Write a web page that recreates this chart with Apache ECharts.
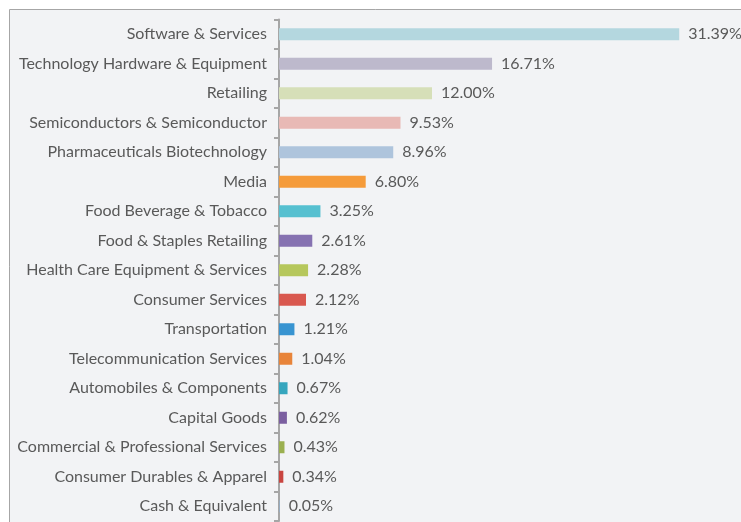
<!DOCTYPE html>
<html>
<head>
<meta charset="utf-8">
<script src="https://cdn.jsdelivr.net/npm/echarts@6/dist/echarts.min.js"></script>
<style>
html,body{margin:0;padding:0;background:#fff;}
#c{width:741px;height:522px;}
</style>
</head>
<body>
<div id="c"></div>
<script>
var categories = [
  'Software & Services',
  'Technology Hardware & Equipment',
  'Retailing',
  'Semiconductors & Semiconductor',
  'Pharmaceuticals Biotechnology',
  'Media',
  'Food Beverage & Tobacco',
  'Food & Staples Retailing',
  'Health Care Equipment & Services',
  'Consumer Services',
  'Transportation',
  'Telecommunication Services',
  'Automobiles & Components',
  'Capital Goods',
  'Commercial & Professional Services',
  'Consumer Durables & Apparel',
  'Cash & Equivalent'
];
var weights = [31.39, 16.71, 12.00, 9.53, 8.96, 6.80, 3.25, 2.61, 2.28, 2.12, 1.21, 1.04, 0.67, 0.62, 0.43, 0.34, 0.05];
var barColors = ['#b4d7df','#bdb9cc','#d6dfb8','#e8b9b5','#aec4dc','#f59b3a','#56c0d0','#8672b1','#b6c75c','#d9584f','#3894d1','#e8843a','#36a6be','#7b5fa0','#9bb050','#c94540','#8fb0d0'];

var FONT = 'Lato';
var chart = echarts.init(document.getElementById('c'), null, {renderer:'canvas'});
chart.setOption({
  animation:false,
  backgroundColor:'#ffffff',
  graphic:[{
    type:'rect', z:-10, silent:true,
    shape:{x:9.5,y:9.5,width:900,height:700},
    style:{fill:'#f2f3f5',stroke:'#a6a6a6',lineWidth:1}
  }],
  grid:{left:279,top:19.5,width:12.75*35,bottom:1},
  xAxis:{type:'value',min:0,max:35,show:false,splitLine:{show:false}},
  yAxis:{
    type:'category',
    data:categories,
    inverse:true,
    axisLine:{show:true,lineStyle:{color:'#a6a6a6',width:2}},
    axisTick:{show:true,length:5,lineStyle:{color:'#a6a6a6',width:2}},
    axisLabel:{margin:12,color:'#595959',fontFamily:FONT,fontSize:16}
  },
  series:[{
    type:'bar',
    data:weights.map(function(v,i){return {value:v,itemStyle:{color:barColors[i]}};}),
    barWidth:12,
    label:{show:true,position:'right',distance:9,color:'#595959',fontFamily:FONT,fontSize:16,
      formatter:function(p){return p.value.toFixed(2)+'%';}}
  }]
});
</script>
</body>
</html>
